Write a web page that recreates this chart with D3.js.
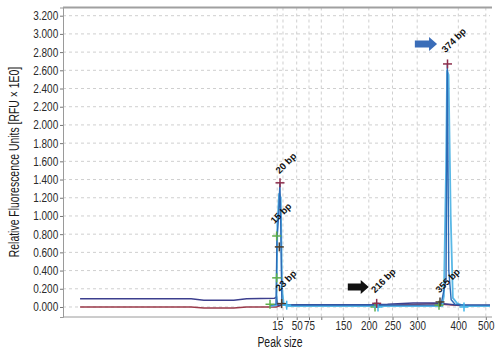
<!DOCTYPE html>
<html><head><meta charset="utf-8">
<script src="https://cdn.jsdelivr.net/npm/d3@7"></script>
<style>
html,body{margin:0;padding:0;background:#fff;}
svg{display:block;}
</style></head>
<body>
<script>
// ---- data (x in migration units 0..100, y in RFU) ----
const ladderTimes  = [50.16, 51.52, 54.73, 57.61, 60.49, 65.64, 71.62, 77.17, 82.95, 92.58, 99.02];
const ladderLabels = ["15", "", "50", "75", "", "150", "200", "250", "300", "400", "500"];
const yTicks = [0, 0.2, 0.4, 0.6, 0.8, 1.0, 1.2, 1.4, 1.6, 1.8, 2.0, 2.2, 2.4, 2.6, 2.8, 3.0, 3.2];

const navyTrace = [[4,0.09],[30,0.09],[33,0.075],[40,0.075],[43,0.09],[49.5,0.095],[50.0,0.11],[50.3,0.02],[55,0.025],[72,0.025],[76,0.03],[82,0.045],[87,0.045],[93,0.02],[100,0.02]];
const redTrace  = [[4,0.0],[30,0.0],[33,-0.01],[40,-0.01],[43,0.0],[50,0.0],[51,0.018],[72,0.018],[76,0.02],[87,0.035],[93,0.015],[100,0.015]];
const lightTrace = [[48.5,0.01],[50.0,0.02],[50.2,0.9],[50.6,1.25],[51.0,1.2],[51.3,0.2],[51.7,0.03],[52.5,0.01],[88.8,0.01],[89.2,0.12],[89.7,1.5],[89.95,2.6],[90.3,2.55],[90.8,1.0],[91.3,0.1],[92.3,0.04],[94,0.01],[100,0.01]];
const blueTrace  = [[48.5,0.02],[49.9,0.03],[50.1,0.75],[50.5,1.0],[50.8,1.37],[51.0,0.9],[51.25,0.05],[52,0.02],[88.5,0.02],[89.7,0.3],[90.0,2.67],[90.35,0.4],[90.9,0.08],[91.8,0.03],[94,0.02],[100,0.02]];

const markerMaroon = [[50.82,1.364],[73.46,0.04],[90.05,2.67]];
const markerGreen  = [[50.04,0.78],[50.04,0.32],[48.48,0.03],[73.07,0.0],[88.06,0.02]];
const markerOlive  = [[50.66,0.66],[51.21,0.037],[88.29,0.055]];
const markerCyan   = [[52.39,0.02],[73.77,0.0],[93.91,0.0]];

const peakLabels = ["20 bp","15 bp","23 bp","216 bp","355 bp","374 bp"];
const peakLabelX = [52.2, 51.05, 52.2, 75.0, 90.1, 91.5];
const peakLabelY = [1.58, 1.03, 0.29, 0.29, 0.29, 2.93];

const arrowNames = ["black","blue"];
const arrowX = [[66.7,71.6],[82.4,87.6]];
const arrowY = [0.22, 2.89];

// ---- layout ----
const W = 500, H = 353;
const m = {left:63, top:7.5, right:10, bottom:36};
const iw = W - m.left - m.right, ih = H - m.top - m.bottom;
const NARROW = 0.82;
const TNARROW = 0.72;

const svg = d3.select("body").append("svg").attr("width",W).attr("height",H);
const g = svg.append("g").attr("transform",`translate(${m.left},${m.top})`);

const x = d3.scaleLinear().domain([0,100]).range([0,iw]);
const y = d3.scaleLinear().domain([-0.11,3.29]).range([ih,0]);

const font = "'Liberation Sans',Arial,sans-serif";

// grid
g.append("g").selectAll("line").data(yTicks).join("line")
  .attr("x1",0).attr("x2",iw).attr("y1",d=>y(d)).attr("y2",d=>y(d))
  .attr("stroke","#cfcfcf").attr("stroke-dasharray","3,3").attr("stroke-width",1);
g.append("g").selectAll("line").data(ladderTimes).join("line")
  .attr("x1",d=>x(d)).attr("x2",d=>x(d)).attr("y1",0).attr("y2",ih)
  .attr("stroke","#cfcfcf").attr("stroke-dasharray","3,3").attr("stroke-width",1);

// axes
const yAxis = g.append("g").call(d3.axisLeft(y).tickValues(yTicks).tickFormat(d3.format(".3f")).tickSize(3).tickPadding(3));
yAxis.select(".domain").attr("stroke","#9a9a9a");
yAxis.selectAll(".tick line").attr("stroke","#777");
yAxis.selectAll("text").attr("font-family",font).attr("font-size",12.5).attr("fill","#2a2a2a")
  .attr("transform",`scale(0.8,1)`);

const xAxis = g.append("g").attr("transform",`translate(0,${ih})`)
  .call(d3.axisBottom(x).tickValues(ladderTimes).tickFormat((d,i)=>ladderLabels[i]).tickSize(3).tickPadding(1));
xAxis.select(".domain").remove();
xAxis.selectAll(".tick line").attr("stroke","#777");
xAxis.selectAll("text").filter(function(){ return this.textContent === ""; }).remove();
xAxis.selectAll("text").attr("font-family",font).attr("font-size",12).attr("fill","#2a2a2a")
  .attr("transform",`scale(${NARROW},1)`);

// frame
g.append("line").attr("x1",0).attr("x2",iw+2).attr("y1",ih).attr("y2",ih).attr("stroke","#9a9a9a");
g.append("line").attr("x1",0).attr("x2",iw+2).attr("y1",0).attr("y2",0).attr("stroke","#a0a0a0").attr("stroke-width",2);

// traces
const line = d3.line().x(d=>x(d[0])).y(d=>y(d[1]));
g.append("path").datum(redTrace).attr("d",line).attr("fill","none").attr("stroke","#9b3a4a").attr("stroke-width",1.5);
g.append("path").datum(navyTrace).attr("d",line).attr("fill","none").attr("stroke","#3c3f8e").attr("stroke-width",1.5);
g.append("path").datum(lightTrace).attr("d",line).attr("fill","none").attr("stroke","#58b8e6").attr("stroke-width",1.8);
g.append("path").datum(blueTrace).attr("d",line).attr("fill","none").attr("stroke","#2d6bb6").attr("stroke-width",1.4);

// markers
function crosses(data,color){
  const s = 4.5;
  const gg = g.append("g");
  gg.selectAll(".h").data(data).join("line").attr("class","h")
    .attr("x1",d=>x(d[0])-s).attr("x2",d=>x(d[0])+s).attr("y1",d=>y(d[1])).attr("y2",d=>y(d[1]))
    .attr("stroke",color).attr("stroke-width",1.5);
  gg.selectAll(".v").data(data).join("line").attr("class","v")
    .attr("x1",d=>x(d[0])).attr("x2",d=>x(d[0])).attr("y1",d=>y(d[1])-s).attr("y2",d=>y(d[1])+s)
    .attr("stroke",color).attr("stroke-width",1.5);
}
crosses(markerGreen,"#5fae4a");
crosses(markerOlive,"#4d3d2c");
crosses(markerCyan,"#40b6ea");
crosses(markerMaroon,"#8e2f4d");

// labels
g.append("g").selectAll("text").data(peakLabels).join("text")
  .attr("transform",(d,i)=>`translate(${x(peakLabelX[i])},${y(peakLabelY[i])}) rotate(-45)`)
  .attr("text-anchor","middle").attr("dy","0.35em")
  .attr("font-family",font).attr("font-weight","bold")
  .attr("font-size",9.5).attr("fill","#111").text(d=>d);

// arrows
const arrowColors = {black:"#111", blue:"#3a6db8"};
arrowNames.forEach((n,i)=>{
  const x0 = x(arrowX[i][0]), x1 = x(arrowX[i][1]), yc = y(arrowY[i]);
  const sh = 3.5, hh = 7, hl = 8;
  const p = `M${x0},${yc-sh} L${x1-hl},${yc-sh} L${x1-hl},${yc-hh} L${x1},${yc} L${x1-hl},${yc+hh} L${x1-hl},${yc+sh} L${x0},${yc+sh} Z`;
  g.append("path").attr("d",p).attr("fill",arrowColors[n]);
});

// titles
svg.append("text").attr("transform",`translate(19,162) rotate(-90) scale(${TNARROW},1)`)
  .attr("text-anchor","middle").attr("font-family",font).attr("font-size",14.5).attr("fill","#1a1a1a")
  .text("Relative Fluorescence Units [RFU × 1E0]");
svg.append("text").attr("transform",`translate(280,346.5) scale(${TNARROW},1)`).attr("text-anchor","middle")
  .attr("font-family",font).attr("font-size",14.5).attr("fill","#1a1a1a").text("Peak size");
</script>
</body></html>
